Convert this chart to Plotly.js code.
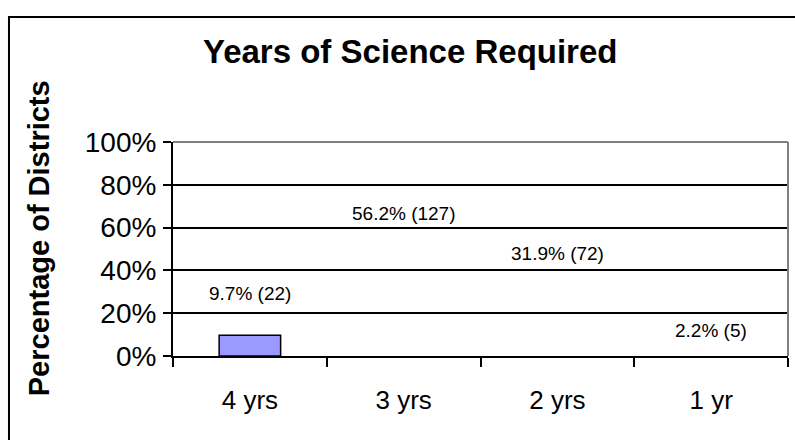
<!DOCTYPE html>
<html>
<head>
<meta charset="utf-8">
<script src="https://cdn.plot.ly/plotly-3.0.1.min.js"></script>
<style>
  html, body { margin: 0; padding: 0; background: #ffffff; }
  #chart { width: 795px; height: 440px; }
</style>
</head>
<body>
<div id="chart"></div>
<script>
// ---- data ----
const categories = ["4 yrs", "3 yrs", "2 yrs", "1 yr"];
const percentValues = [0.097, 0.562, 0.319, 0.022];
const districtCounts = [22, 127, 72, 5];
const chartTitle = "Years of Science Required";
const yAxisTitle = "Percentage of Districts";

// ---- styles ----
const barFill = ["#9999FF", "rgba(0,0,0,0)", "rgba(0,0,0,0)", "rgba(0,0,0,0)"];
const barLine = [1.5, 0, 0, 0];
const labelShift = [42, 22, 34, 21];
const FONT = "Liberation Sans, Arial, sans-serif";

const labelText = percentValues.map((v, i) =>
  (v * 100).toFixed(1) + "% (" + districtCounts[i] + ")");

const trace = {
  type: "bar",
  x: categories,
  y: percentValues,
  width: 0.4,
  marker: { color: barFill, line: { color: "#000000", width: barLine } },
  hoverinfo: "x+y",
  showlegend: false
};

const annotations = categories.map((c, i) => ({
  x: c, y: percentValues[i], xref: "x", yref: "y",
  text: labelText[i], showarrow: false,
  xanchor: "center", yanchor: "middle", yshift: labelShift[i],
  font: { family: FONT, size: 19, color: "#000000" }
}));

annotations.push({
  text: "<b>" + yAxisTitle + "</b>",
  xref: "paper", yref: "paper", x: -0.218, y: 0.55,
  textangle: -90, showarrow: false, xanchor: "center", yanchor: "middle",
  font: { family: FONT, size: 29, color: "#000000" }
});

const layout = {
  width: 795, height: 440,
  margin: { l: 173, r: 7, t: 142, b: 84 },
  paper_bgcolor: "#ffffff", plot_bgcolor: "#ffffff",
  font: { family: FONT, color: "#000000" },
  title: {
    text: "<b>" + chartTitle + "</b>",
    x: 0.516, xanchor: "center", xref: "container",
    y: 0.882, yanchor: "middle", yref: "container",
    font: { family: FONT, size: 33, color: "#000000" }
  },
  xaxis: {
    type: "category",
    showline: true, linecolor: "#000000", linewidth: 2,
    ticks: "outside", ticklen: 9, tickwidth: 2, tickcolor: "#000000",
    tickson: "boundaries",
    showgrid: false, zeroline: false,
    tickfont: { family: FONT, size: 26, color: "#000000" },
    ticklabelstandoff: 20
  },
  yaxis: {
    range: [0, 1], dtick: 0.2, tick0: 0, tickformat: ".0%",
    showline: true, linecolor: "#000000", linewidth: 2,
    ticks: "outside", ticklen: 8, tickwidth: 2, tickcolor: "#000000",
    showgrid: true, gridcolor: "#000000", gridwidth: 2,
    zeroline: false,
    tickfont: { family: FONT, size: 28, color: "#000000" },
    ticklabelstandoff: 1
  },
  shapes: [
    { type: "line", xref: "paper", yref: "paper", x0: 0, x1: 1, y0: 1, y1: 1,
      line: { color: "#808080", width: 2 }, layer: "above" },
    { type: "line", xref: "paper", yref: "paper", x0: 1, x1: 1, y0: 0, y1: 1,
      line: { color: "#808080", width: 2 }, layer: "above" },
    { type: "rect", xref: "paper", yref: "paper",
      x0: -0.2667, x1: 1.05, y0: -0.5, y1: 1.584,
      line: { color: "#000000", width: 2 }, fillcolor: "rgba(0,0,0,0)", layer: "below" }
  ],
  annotations: annotations,
  bargap: 0.6
};

Plotly.newPlot("chart", [trace], layout, { displayModeBar: false, staticPlot: true });
</script>
</body>
</html>
